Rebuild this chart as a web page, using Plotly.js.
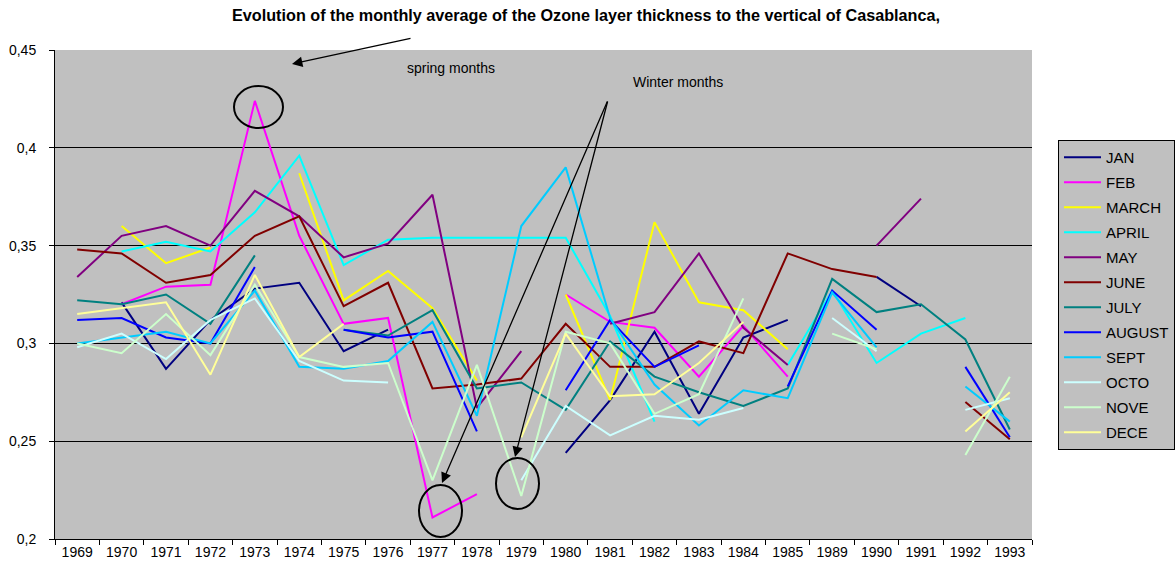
<!DOCTYPE html>
<html>
<head>
<meta charset="utf-8">
<script src="https://cdn.plot.ly/plotly-3.0.1.min.js"></script>
<style>html,body{margin:0;padding:0;background:#fff;}#chart{width:1175px;height:571px;}</style>
</head>
<body>
<div id="chart"></div>
<script>
const years = ['1969','1970','1971','1972','1973','1974','1975','1976','1977','1978','1979','1980','1981','1982','1983','1984','1985','1989','1990','1991','1992','1993'];

const JAN    = [null,0.321,0.287,0.312,0.328,0.331,0.296,0.307,null,null,null,0.244,0.271,0.306,0.264,0.303,0.312,null,0.334,0.319,null,null];
const FEB    = [null,0.320,0.329,0.330,0.424,0.355,0.310,0.313,0.211,0.223,null,0.325,0.311,0.308,0.283,0.309,0.283,null,null,null,null,null];
const MARCH  = [null,0.360,0.341,0.349,null,0.387,0.322,0.337,0.318,0.281,null,0.325,0.271,0.362,0.321,0.317,0.297,null,null,null,null,null];
const APRIL  = [null,0.347,0.352,0.347,0.367,0.396,0.340,0.353,0.354,0.354,0.354,0.354,0.314,0.260,null,null,0.289,0.327,0.290,0.305,0.313,null];
const MAY    = [0.334,0.355,0.360,0.350,0.378,0.365,0.344,0.351,0.376,0.267,0.296,null,0.310,0.316,0.346,0.308,0.289,null,0.350,0.374,null,null];
const JUNE   = [0.348,0.346,0.331,0.335,0.355,0.365,0.319,0.331,0.277,0.279,0.282,0.310,0.288,0.288,0.301,0.295,0.346,0.338,0.334,null,0.270,0.251];
const JULY   = [0.322,0.320,0.325,0.310,0.345,null,0.307,0.304,0.317,0.277,0.280,0.266,0.301,0.283,0.275,0.268,0.277,0.333,0.316,0.320,0.302,0.256];
const AUGUST = [0.312,0.313,0.303,0.300,0.339,null,0.307,0.303,0.306,0.255,null,0.276,0.312,0.288,0.299,null,0.278,0.327,0.307,null,0.288,0.252];
const SEPT   = [0.300,0.303,0.306,0.300,0.327,0.288,0.287,0.291,0.311,0.263,0.360,0.390,0.313,0.279,0.258,0.276,0.272,0.326,0.298,null,0.278,0.260];
const OCTO   = [0.298,0.305,0.292,0.312,0.323,0.291,0.281,0.280,null,null,0.230,0.268,0.253,0.263,0.261,0.267,null,0.313,0.296,null,0.266,0.272];
const NOVE   = [0.300,0.295,0.315,0.294,0.330,0.293,0.288,0.290,0.230,0.289,0.222,0.306,0.300,0.264,0.274,0.323,null,0.305,0.297,null,0.243,0.283];
const DECE   = [0.315,0.318,0.321,0.284,0.335,0.293,0.310,null,null,null,0.252,0.305,0.273,0.274,0.290,0.311,null,null,null,null,0.255,0.275];

const seriesNames = ['JAN','FEB','MARCH','APRIL','MAY','JUNE','JULY','AUGUST','SEPT','OCTO','NOVE','DECE'];
const seriesData = [JAN,FEB,MARCH,APRIL,MAY,JUNE,JULY,AUGUST,SEPT,OCTO,NOVE,DECE];
const seriesColors = ['#000080','#FF00FF','#FFFF00','#00FFFF','#800080','#800000','#008080','#0000FF','#00CCFF','#CCFFFF','#CCFFCC','#FFFF99'];

const yTickVals = [0.2,0.25,0.3,0.35,0.4,0.45];
const yTickText = ['0,2','0,25','0,3','0,35','0,4','0,45'];

const titleText = 'Evolution of the monthly average of the Ozone layer thickness to the vertical of Casablanca,';

// pixel -> paper helpers (plot area 55..1032 x 50..539)
const L = 55, R = 1032, T = 50, B = 539;
const px = X => (X - L) / (R - L);
const py = Y => (B - Y) / (B - T);

const traces = seriesNames.map((n, i) => ({
  type: 'scatter', mode: 'lines', name: n, x: years, y: seriesData[i],
  line: {color: seriesColors[i], width: 2}, legendgroup: n, connectgaps: false,
  hoverinfo: 'x+y+name'
}));

const font = 'Liberation Sans, Arial, sans-serif';

function circle(x0, y0, x1, y1) {
  return {type: 'circle', xref: 'paper', yref: 'paper', x0: px(x0), x1: px(x1), y0: py(y1), y1: py(y0),
          line: {color: '#000', width: 2}, fillcolor: 'rgba(0,0,0,0)'};
}
function arrow(hx, hy, tx, ty) {
  return {xref: 'paper', yref: 'paper', x: px(hx), y: py(hy), ax: tx - hx, ay: ty - hy,
          axref: 'pixel', ayref: 'pixel', text: '', showarrow: true, arrowhead: 2, arrowsize: 1.6,
          arrowwidth: 1.3, arrowcolor: '#000'};
}

const layout = {
  width: 1175, height: 571,
  margin: {l: L, r: 1175 - R, t: T, b: 571 - B},
  paper_bgcolor: '#ffffff', plot_bgcolor: '#C0C0C0',
  font: {family: font, size: 14, color: '#000'},
  title: {text: '<b>' + titleText + '</b>', font: {family: font, size: 16.2, color: '#000'},
          x: px(586), xref: 'paper', xanchor: 'center', y: 1 - 15/571, yref: 'container', yanchor: 'middle'},
  xaxis: {type: 'category', categoryorder: 'array', categoryarray: years, range: [-0.5, 21.5],
          showline: true, linecolor: '#000', linewidth: 1, mirror: false,
          ticks: 'outside', ticklen: 5, tickcolor: '#000', tickson: 'boundaries',
          showgrid: false, zeroline: false, tickfont: {family: font, size: 14, color: '#000'}},
  yaxis: {range: [0.2, 0.45], tickvals: yTickVals, ticktext: yTickText,
          showline: true, linecolor: '#000', linewidth: 1,
          ticks: 'outside', ticklen: 5, tickcolor: '#000', ticklabelstandoff: 10,
          showgrid: true, gridcolor: '#000', gridwidth: 1, zeroline: false,
          tickfont: {family: font, size: 14, color: '#000'}},
  legend: {x: 1, xref: 'container', xanchor: 'right', y: py(140), yanchor: 'top',
           bgcolor: '#C0C0C0', bordercolor: '#000', borderwidth: 1,
           font: {family: font, size: 15, color: '#000'},
           traceorder: 'grouped', tracegroupgap: 2.5, itemwidth: 37},
  shapes: [
    circle(234, 86, 283, 128),
    circle(419, 485, 462, 537),
    circle(496, 458, 539, 509)
  ],
  annotations: [
    {xref: 'paper', yref: 'paper', x: px(451), y: py(68), text: 'spring months', showarrow: false,
     font: {family: font, size: 14, color: '#000'}, xanchor: 'center', yanchor: 'middle'},
    {xref: 'paper', yref: 'paper', x: px(678), y: py(82), text: 'Winter months', showarrow: false,
     font: {family: font, size: 14, color: '#000'}, xanchor: 'center', yanchor: 'middle'},
    arrow(292, 64, 412, 38),
    arrow(442, 483, 608, 100),
    arrow(515, 457, 608, 100)
  ]
};

Plotly.newPlot('chart', traces, layout, {displayModeBar: false, staticPlot: true});
</script>
</body>
</html>
